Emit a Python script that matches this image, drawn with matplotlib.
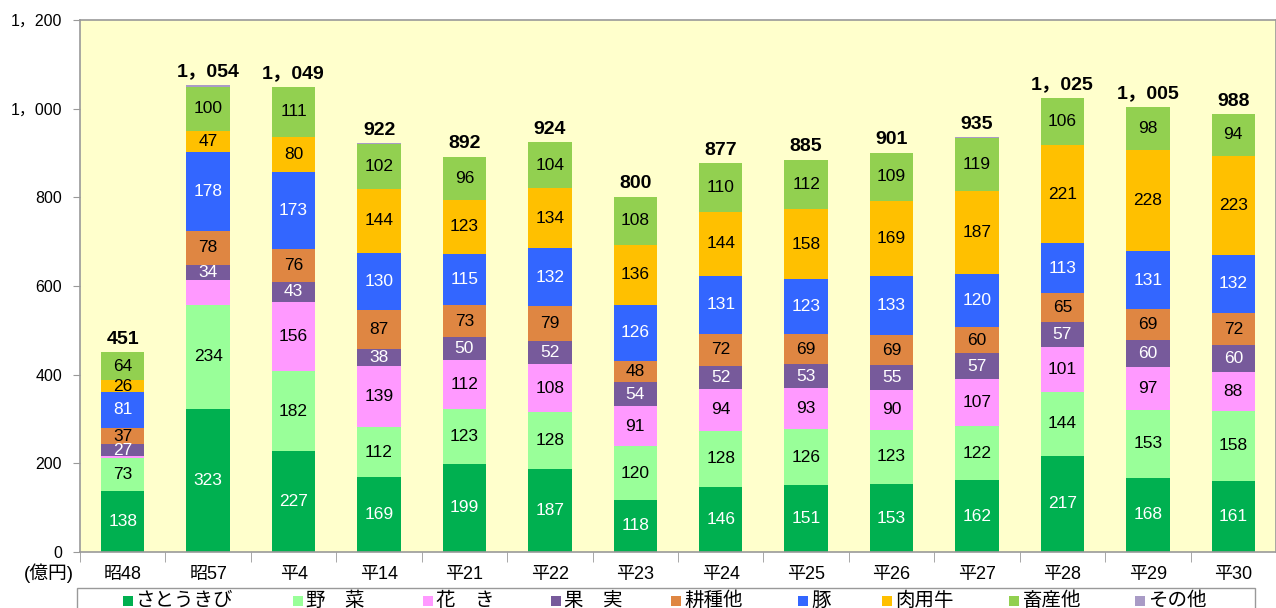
import matplotlib
matplotlib.use("Agg")
import matplotlib.pyplot as plt
from matplotlib.patches import Rectangle
import numpy as np

plt.rcParams['font.family'] = ['Liberation Sans', 'Noto Sans CJK JP', 'DejaVu Sans']

categories = ["昭48", "昭57", "平4", "平14", "平21", "平22", "平23", "平24", "平25", "平26", "平27", "平28", "平29", "平30"]
series_names = ["さとうきび", "野　菜", "花　き", "果　実", "耕種他", "豚", "肉用牛", "畜産他", "その他"]
sugarcane = [138, 323, 227, 169, 199, 187, 118, 146, 151, 153, 162, 217, 168, 161]
vegetables = [73, 234, 182, 112, 123, 128, 120, 128, 126, 123, 122, 144, 153, 158]
flowers = [5, 56, 156, 139, 112, 108, 91, 94, 93, 90, 107, 101, 97, 88]
fruits = [27, 34, 43, 38, 50, 52, 54, 52, 53, 55, 57, 57, 60, 60]
other_crops = [37, 78, 76, 87, 73, 79, 48, 72, 69, 69, 60, 65, 69, 72]
pigs = [81, 178, 173, 130, 115, 132, 126, 131, 123, 133, 120, 113, 131, 132]
beef = [26, 47, 80, 144, 123, 134, 136, 144, 158, 169, 187, 221, 228, 223]
other_livestock = [64, 100, 111, 102, 96, 104, 108, 110, 112, 109, 119, 106, 98, 94]
others = [0, 4, 1, 1, 1, 0, 0, 0, 0, 0, 1, 1, 0, 0]
totals = ["451", "1，054", "1，049", "922", "892", "924", "800", "877", "885", "901", "935", "1，025", "1，005", "988"]
yticks = [0, 200, 400, 600, 800, 1000, 1200]
ytick_labels = ["0", "200", "400", "600", "800", "1，000", "1，200"]

series = [sugarcane, vegetables, flowers, fruits, other_crops, pigs, beef, other_livestock, others]
colors = ["#00B050", "#99FF99", "#FF99FF", "#775A9B", "#DF8642", "#3366FF", "#FFC000", "#92D050", "#A99BC6"]
text_colors = ["white", "black", "black", "white", "black", "white", "black", "black", None]
# unlabeled segments (series index, category index)
hidden = {(2, 0), (2, 1)}

W, H = 1276, 608
fig = plt.figure(figsize=(W / 100, H / 100), dpi=100)
ax_left, ax_right, ax_top, ax_bot = 80, 1276, 20, 552
ax = fig.add_axes([ax_left / W, 1 - ax_bot / H, (ax_right - ax_left) / W, (ax_bot - ax_top) / H])
ax.set_facecolor("#FFFFCC")

spacing = 86.3
x = np.arange(len(categories))
ax.set_xlim(-0.5, -0.5 + (ax_right - ax_left) / spacing)
ax.set_ylim(0, 1200)

bottom = np.zeros(len(categories))
for si, (vals, col) in enumerate(zip(series, colors)):
    vals = np.array(vals, dtype=float)
    ax.bar(x, vals, bottom=bottom, width=0.51, color=col, edgecolor='none', zorder=2)
    if text_colors[si] is not None:
        for ci in range(len(categories)):
            if (si, ci) in hidden or vals[ci] <= 0:
                continue
            ax.text(x[ci], bottom[ci] + vals[ci] / 2, str(int(vals[ci])), ha='center', va='center',
                    fontsize=12.5, color=text_colors[si], zorder=3)
    bottom += vals

for ci in range(len(categories)):
    ax.text(x[ci], bottom[ci] + 10, totals[ci], ha='center', va='bottom', fontsize=14,
            fontweight='bold', color='black', zorder=3)

ax.set_yticks(yticks)
ax.set_yticklabels(ytick_labels, fontsize=11.5)
ax.tick_params(axis='y', direction='out', length=5, color='#999999', pad=8)

ax.set_xticks(x)
ax.set_xticklabels(categories, fontsize=13)
ax.tick_params(axis='x', which='major', length=0, pad=10)
ax.set_xticks(np.arange(len(categories) + 1) - 0.5, minor=True)
ax.tick_params(axis='x', which='minor', length=7, color='#999999', direction='out')

for s in ['left', 'top', 'bottom', 'right']:
    ax.spines[s].set_color('#999999')
    ax.spines[s].set_linewidth(1.2)

fig.text(49 / W, 1 - 573 / H, "(億円)", ha='center', va='center', fontsize=13.5)

# legend
leg_box = Rectangle((77 / W, 1 - 630 / H), (1255 - 77) / W, 42 / H, transform=fig.transFigure,
                    facecolor='white', edgecolor='#999999', linewidth=1.0)
fig.patches.append(leg_box)
marker_x = [128, 298, 428, 556, 676, 803, 887, 1014, 1140]
for mx, name, col in zip(marker_x, series_names, colors):
    fig.patches.append(Rectangle(((mx - 5) / W, 1 - 606 / H), 10 / W, 10 / H, transform=fig.transFigure,
                                 facecolor=col, edgecolor='none'))
    fig.text((mx + 8) / W, 1 - 601 / H, name, ha='left', va='center', fontsize=14)

fig.savefig("out.png", dpi=100)
